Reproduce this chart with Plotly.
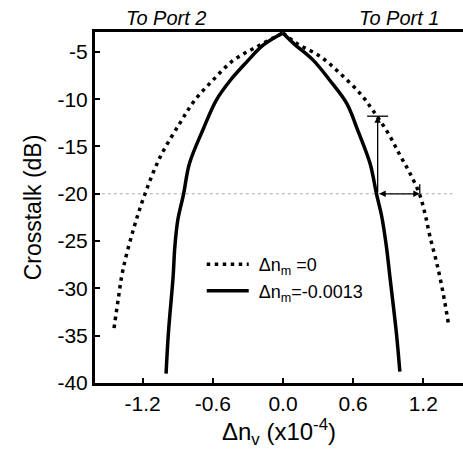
import plotly.graph_objects as go

# Delta n_m = 0 (dotted)
dot_x = [-1.445, -1.41, -1.37, -1.28, -1.18, -1.05, -0.88, -0.76, -0.60, -0.425, -0.23, 0.0,
         0.117, 0.32, 0.49, 0.66, 0.77, 0.90, 1.0, 1.085, 1.167, 1.215, 1.257, 1.315, 1.37, 1.415]
dot_y = [-34.2, -31.2, -28.1, -23.8, -20.0, -16.1, -12.5, -10.2, -8.0, -5.9, -4.5, -3.0,
         -4.1, -5.5, -7.3, -9.4, -11.2, -13.6, -15.9, -17.8, -20.0, -22.1, -24.5, -27.3, -30.5, -33.7]

# Delta n_m = -0.0013 (solid)
sol_x = [-1.0, -0.98, -0.94, -0.925, -0.90, -0.85, -0.80, -0.68, -0.57, -0.45, -0.31, -0.17, 0.0,
         0.09, 0.26, 0.40, 0.545, 0.64, 0.745, 0.80, 0.845, 0.885, 0.915, 0.97, 1.0]
sol_y = [-39.0, -34.7, -28.8, -25.6, -22.8, -20.0, -16.8, -13.1, -10.1, -8.0, -6.06, -4.29, -3.0,
         -4.1, -5.9, -8.0, -10.45, -13.3, -16.8, -20.0, -22.4, -25.6, -28.8, -34.7, -38.8]

x_ticks = [-1.2, -0.6, 0.0, 0.6, 1.2]
x_ticklabels = ["-1.2", "-0.6", "0.0", "0.6", "1.2"]
y_ticks = [-5, -10, -15, -20, -25, -30, -35, -40]
y_ticklabels = ["-5", "-10", "-15", "-20", "-25", "-30", "-35", "-40"]

ref_level = -20
vert_arrow = {"x": 0.81, "y0": -20, "y1": -11.8}
horiz_arrow = {"y": -20, "x0": 0.81, "x1": 1.17}

FONT = "Arial, Liberation Sans, sans-serif"

fig = go.Figure()


def add_split(xs, ys, name, line, group):
    # draw each branch separately so the cusp at the peak stays sharp
    peak = ys.index(max(ys))
    left = (xs[:peak + 1], ys[:peak + 1])
    right = (xs[peak:], ys[peak:])
    fig.add_trace(go.Scatter(x=left[0], y=left[1], mode="lines", name=name,
                             legendgroup=group, showlegend=True, line=line))
    fig.add_trace(go.Scatter(x=right[0], y=right[1], mode="lines", name=name,
                             legendgroup=group, showlegend=False, line=line))


add_split(dot_x, dot_y, "&nbsp;Δn<sub>m</sub> =0",
          dict(color="black", width=3.5, dash="3.5px,4.5px", shape="spline", smoothing=1.0), "a")
add_split(sol_x, sol_y, "&nbsp;Δn<sub>m</sub>=-0.0013",
          dict(color="black", width=3.5, shape="spline", smoothing=1.0), "b")

# faint reference line
fig.add_shape(type="line", x0=-1.55, x1=1.45, y0=ref_level, y1=ref_level,
              line=dict(color="#aaaaaa", width=1, dash="dot"), layer="below")

# vertical arrow with cap
fig.add_annotation(x=vert_arrow["x"], y=vert_arrow["y1"], ax=vert_arrow["x"], ay=vert_arrow["y0"],
                   axref="x", ayref="y", xref="x", yref="y", text="", showarrow=True,
                   arrowhead=2, arrowsize=1, arrowwidth=1.3, arrowcolor="black")
fig.add_shape(type="line", x0=vert_arrow["x"] - 0.09, x1=vert_arrow["x"] + 0.09,
              y0=vert_arrow["y1"], y1=vert_arrow["y1"], line=dict(color="black", width=1.3))
# horizontal arrow with cap
fig.add_annotation(x=horiz_arrow["x1"], y=horiz_arrow["y"], ax=horiz_arrow["x0"], ay=horiz_arrow["y"],
                   axref="x", ayref="y", xref="x", yref="y", text="", showarrow=True,
                   arrowhead=2, startarrowhead=2, arrowside="end+start", arrowsize=1,
                   arrowwidth=1.3, arrowcolor="black")
fig.add_shape(type="line", x0=horiz_arrow["x1"], x1=horiz_arrow["x1"],
              y0=horiz_arrow["y"], y1=horiz_arrow["y"] + 1.0, line=dict(color="black", width=1.3))

fig.add_annotation(text="<i>To Port 2</i>", x=-1.0, y=1.0, xref="x", yref="paper",
                   yanchor="bottom", showarrow=False, yshift=1,
                   font=dict(family=FONT, size=20, color="black"))
fig.add_annotation(text="<i>To Port 1</i>", x=0.99, y=1.0, xref="x", yref="paper",
                   yanchor="bottom", showarrow=False, yshift=1,
                   font=dict(family=FONT, size=20, color="black"))

fig.update_layout(
    width=463, height=462,
    margin=dict(l=95, r=0, t=32, b=79),
    paper_bgcolor="white", plot_bgcolor="white",
    font=dict(family=FONT, size=21, color="black"),
    showlegend=True,
    legend=dict(x=0.29, y=0.39, xanchor="left", yanchor="top",
                bgcolor="rgba(0,0,0,0)", borderwidth=0,
                font=dict(family=FONT, size=18, color="black"),
                tracegroupgap=0, itemwidth=42),
)
fig.update_xaxes(
    range=[-1.608, 1.54], tickvals=x_ticks, ticktext=x_ticklabels,
    showline=True, linecolor="black", linewidth=3, mirror=True,
    ticks="inside", ticklen=5, tickwidth=2, tickcolor="black",
    showgrid=False, zeroline=False,
    title=dict(text="Δn<sub>v</sub> (x10<sup>-4</sup>)", font=dict(size=24), standoff=8),
)
fig.update_yaxes(
    range=[-40, -2.9], tickvals=y_ticks, ticktext=y_ticklabels,
    showline=True, linecolor="black", linewidth=3, mirror=False,
    ticks="inside", ticklen=5, tickwidth=2, tickcolor="black",
    showgrid=False, zeroline=False,
    title=dict(text="Crosstalk (dB)", font=dict(size=23), standoff=10),
)

fig.write_html("out.html")
